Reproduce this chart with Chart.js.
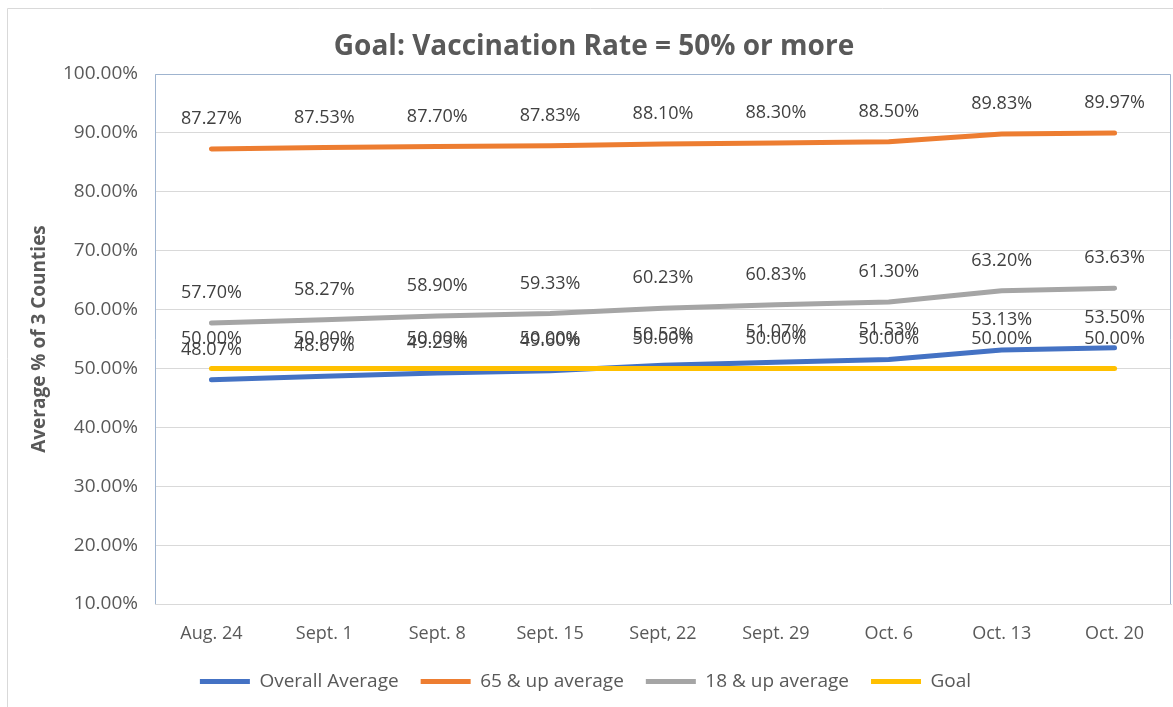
<!DOCTYPE html>
<html>
<head>
<meta charset="utf-8">
<title>Goal: Vaccination Rate</title>
<script src="https://cdn.jsdelivr.net/npm/chart.js@4/dist/chart.umd.min.js"></script>
<style>
  body { margin: 0; background: #fff; }
  canvas { display: block; }
</style>
</head>
<body>
<canvas id="vacc-chart" width="1173" height="707"></canvas>
<script>
const weeks = ['Aug. 24', 'Sept. 1', 'Sept. 8', 'Sept. 15', 'Sept, 22', 'Sept. 29', 'Oct. 6', 'Oct. 13', 'Oct. 20'];
const overallAvg = [48.07, 48.67, 49.23, 49.60, 50.53, 51.07, 51.53, 53.13, 53.50];
const over65Avg = [87.27, 87.53, 87.70, 87.83, 88.10, 88.30, 88.50, 89.83, 89.97];
const over18Avg = [57.70, 58.27, 58.90, 59.33, 60.23, 60.83, 61.30, 63.20, 63.63];
const goalLine = [50, 50, 50, 50, 50, 50, 50, 50, 50];

const FONT = '"Open Sans", "Segoe UI", sans-serif';
const GREY = '#595959';

// value labels above each point, title, frame and plot box
const extras = {
  id: 'extras',
  beforeDraw(chart) {
    var ctx = chart.ctx;
    ctx.save();
    ctx.strokeStyle = '#d9d9d9';
    ctx.lineWidth = 1;
    ctx.beginPath();
    ctx.moveTo(7.5, 720);
    ctx.lineTo(7.5, 8.5);
    ctx.lineTo(1200, 8.5);
    ctx.stroke();

    ctx.fillStyle = GREY;
    ctx.font = 'bold 28px ' + FONT;
    ctx.textAlign = 'center';
    ctx.textBaseline = 'middle';
    ctx.fillText('Goal: Vaccination Rate = 50% or more', 594, 47);
    ctx.restore();
  },
  afterDatasetsDraw(chart) {
    var ctx = chart.ctx;
    var a = chart.chartArea;
    ctx.save();
    ctx.strokeStyle = '#9fb4cf';
    ctx.lineWidth = 1;
    ctx.beginPath();
    ctx.moveTo(Math.round(a.left) + 0.5, Math.round(a.bottom));
    ctx.lineTo(Math.round(a.left) + 0.5, Math.round(a.top) + 0.5);
    ctx.lineTo(Math.round(a.right) - 0.5, Math.round(a.top) + 0.5);
    ctx.lineTo(Math.round(a.right) - 0.5, Math.round(a.bottom));
    ctx.stroke();

    ctx.font = '18px ' + FONT;
    ctx.fillStyle = '#404040';
    ctx.textAlign = 'center';
    ctx.textBaseline = 'middle';
    chart.data.datasets.forEach(function(ds, i) {
      var meta = chart.getDatasetMeta(i);
      meta.data.forEach(function(pt, j) {
        ctx.fillText(ds.data[j].toFixed(2) + '%', pt.x, pt.y - 30);
      });
    });
    ctx.restore();
  }
};

function makeSet(label, values, color, order) {
  return {
    label: label,
    data: values,
    borderColor: color,
    backgroundColor: color,
    borderWidth: 5,
    borderCapStyle: 'round',
    borderJoinStyle: 'round',
    pointRadius: 0,
    pointHoverRadius: 0,
    fill: false,
    tension: 0,
    order: order
  };
}

new Chart(document.getElementById('vacc-chart').getContext('2d'), {
  type: 'line',
  data: {
    labels: weeks,
    datasets: [
      makeSet('Overall Average', overallAvg, '#4472c4', 3),
      makeSet('65 & up average', over65Avg, '#ed7d31', 2),
      makeSet('18 & up average', over18Avg, '#a5a5a5', 1),
      makeSet('Goal', goalLine, '#ffc000', 0)
    ]
  },
  options: {
    responsive: false,
    animation: false,
    layout: {
      padding: { top: 74, right: 2, left: 0, bottom: 6 }
    },
    plugins: {
      title: { display: false },
      tooltip: { enabled: false },
      legend: {
        position: 'bottom',
        labels: {
          usePointStyle: true,
          pointStyle: 'line',
          pointStyleWidth: 50,
          boxWidth: 50,
          padding: 22,
          color: GREY,
          font: { family: FONT, size: 19 },
          sort: function(a, b) { return a.datasetIndex - b.datasetIndex; }
        }
      }
    },
    scales: {
      x: {
        offset: true,
        grid: { display: false },
        border: { display: true, color: '#d9d9d9' },
        ticks: {
          color: GREY,
          padding: 11,
          maxRotation: 0,
          font: { family: FONT, size: 18 }
        },
        afterFit: function(s) { s.height = 46; }
      },
      y: {
        min: 10,
        max: 100,
        grid: { color: '#d9d9d9', drawTicks: false },
        border: { display: false },
        ticks: {
          stepSize: 10,
          color: GREY,
          padding: 17,
          font: { family: FONT, size: 19 },
          callback: function(v) { return v.toFixed(2) + '%'; }
        },
        title: {
          display: true,
          text: 'Average % of 3 Counties',
          color: GREY,
          padding: { top: 28, bottom: 0 },
          font: { family: FONT, size: 19, weight: 'bold' }
        },
        afterFit: function(s) { s.width = 155; }
      }
    }
  },
  plugins: [extras]
});
</script>
</body>
</html>
